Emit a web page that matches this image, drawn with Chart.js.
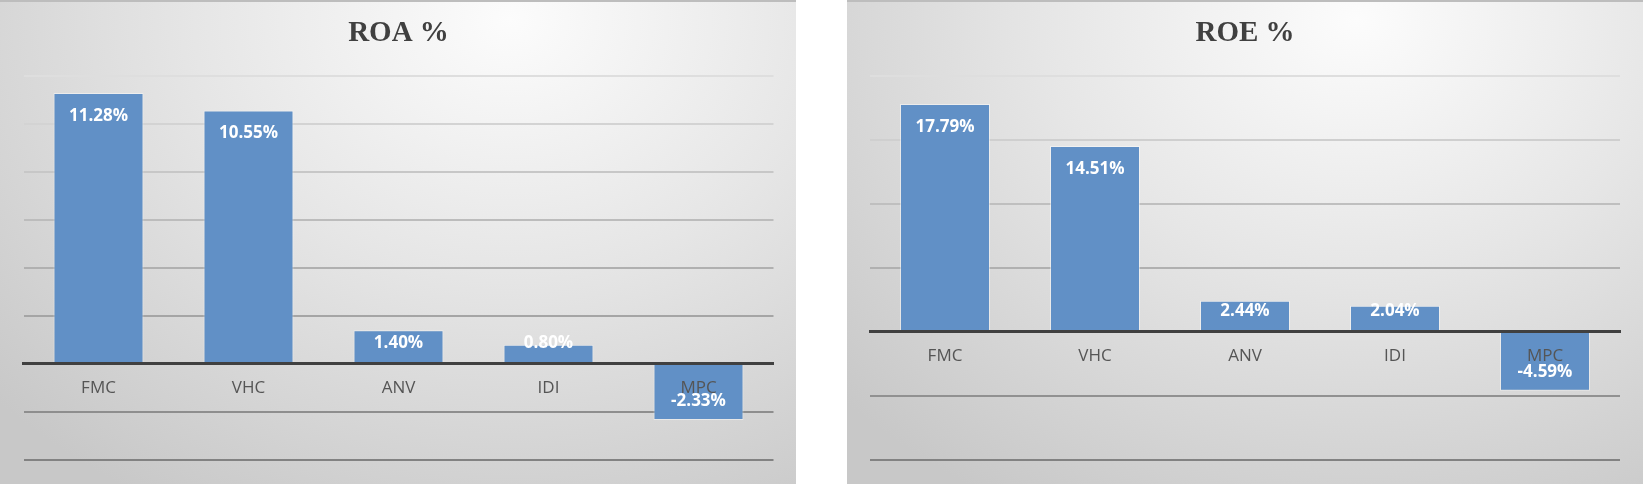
<!DOCTYPE html>
<html>
<head>
<meta charset="utf-8">
<script src="https://cdn.jsdelivr.net/npm/chart.js@4.4.0/dist/chart.umd.min.js"></script>
<style>
  html, body { margin: 0; padding: 0; background: #fff; }
  .panel { position: absolute; top: 0; width: 796px; height: 484px; }
  #roaBox { left: 0; }
  #roeBox { left: 847px; }
</style>
</head>
<body>
<div class="panel" id="roaBox"><canvas id="roaChart" width="796" height="484"></canvas></div>
<div class="panel" id="roeBox"><canvas id="roeChart" width="796" height="484"></canvas></div>
<script>
const companies = ["FMC", "VHC", "ANV", "IDI", "MPC"];
const roaValues = [11.28, 10.55, 1.40, 0.80, -2.33];
const roeValues = [17.79, 14.51, 2.44, 2.04, -4.59];
// y axis: min, max, step (no tick labels shown, only gridlines)
const roaAxis = [-4, 12, 2];
const roeAxis = [-10, 20, 5];

const labelFont = '"Open Sans", sans-serif';

// light radial fill like the office "gradient" chart style
const panelBackground = {
  id: 'panelBackground',
  beforeDraw(chart) {
    const { ctx, width, height } = chart;
    const cx = width * 0.64, cy = height * 0.04;
    const k = 0.8;
    ctx.save();
    ctx.translate(cx, cy);
    ctx.scale(1, k);
    const g = ctx.createRadialGradient(0, 0, 0, 0, 0, 700);
    g.addColorStop(0, '#fcfcfc');
    g.addColorStop(0.45, '#e6e6e6');
    g.addColorStop(1, '#c8c8c8');
    ctx.fillStyle = g;
    ctx.fillRect(-cx, -cy / k, width, height / k);
    ctx.restore();
    ctx.fillStyle = '#bdbdbd';
    ctx.fillRect(0, 0, width, 2);
  }
};

// white value labels, "inside end" like excel
const barValueLabels = {
  id: 'barValueLabels',
  afterDraw(chart) {
    const { ctx } = chart;
    const meta = chart.getDatasetMeta(0);
    const values = chart.data.datasets[0].data;
    ctx.save();
    ctx.font = 'bold 17px "Open Sans", sans-serif';
    ctx.fillStyle = '#ffffff';
    ctx.textAlign = 'center';
    ctx.textBaseline = 'middle';
    meta.data.forEach((bar, i) => {
      const v = values[i];
      let y;
      if (v >= 0) {
        y = Math.min(bar.y + 23, bar.base - 19.5);
      } else {
        y = Math.max(bar.y - 19, bar.base + 19.5);
      }
      ctx.fillText(v.toFixed(2) + '%', bar.x, y);
    });
    ctx.restore();
  }
};

function gridColor(ctx) {
  const s = ctx.scale;
  if (!ctx.tick || ctx.tick.value === 0) return 'rgba(0,0,0,0)';
  const t = (s.max - ctx.tick.value) / (s.max - s.min);
  const c = Math.round(222 - t * 92);
  return 'rgb(' + c + ',' + c + ',' + c + ')';
}

const createBarChart = (node, title, values, axis, pad) => {
  return new Chart(node, {
    type: 'bar',
    data: {
      labels: companies,
      datasets: [{
        data: values,
        backgroundColor: '#6190c6',
        borderColor: 'rgba(255,255,255,0.45)',
        borderWidth: 1,
        categoryPercentage: 0.6,
        barPercentage: 1.0
      }]
    },
    plugins: [panelBackground, barValueLabels],
    options: {
      responsive: false,
      animation: false,
      layout: {
        padding: { left: pad[0], right: pad[1], top: 0, bottom: 24 }
      },
      plugins: {
        legend: { display: false },
        tooltip: { enabled: false },
        title: {
          display: true,
          text: title,
          color: '#404040',
          font: { family: '"Liberation Serif", "Times New Roman", serif', size: 29, weight: 'bold' },
          padding: { top: 16, bottom: 25 }
        }
      },
      scales: {
        x: {
          position: { y: 0 },
          offset: true,
          grid: { display: false, drawTicks: false },
          border: { display: true, color: '#404040', width: 3, z: 1 },
          ticks: {
            z: 1,
            color: '#555555',
            padding: 14,
            font: { family: labelFont, size: 17 }
          }
        },
        y: {
          min: axis[0],
          max: axis[1],
          ticks: { display: false, stepSize: axis[2] },
          grid: { color: gridColor, lineWidth: 2, drawTicks: false },
          border: { display: false }
        }
      }
    }
  });
};

createBarChart(document.getElementById('roaChart'), 'ROA %', roaValues, roaAxis, [23.5, 22.5]);
createBarChart(document.getElementById('roeChart'), 'ROE %', roeValues, roeAxis, [23, 23]);
</script>
</body>
</html>
